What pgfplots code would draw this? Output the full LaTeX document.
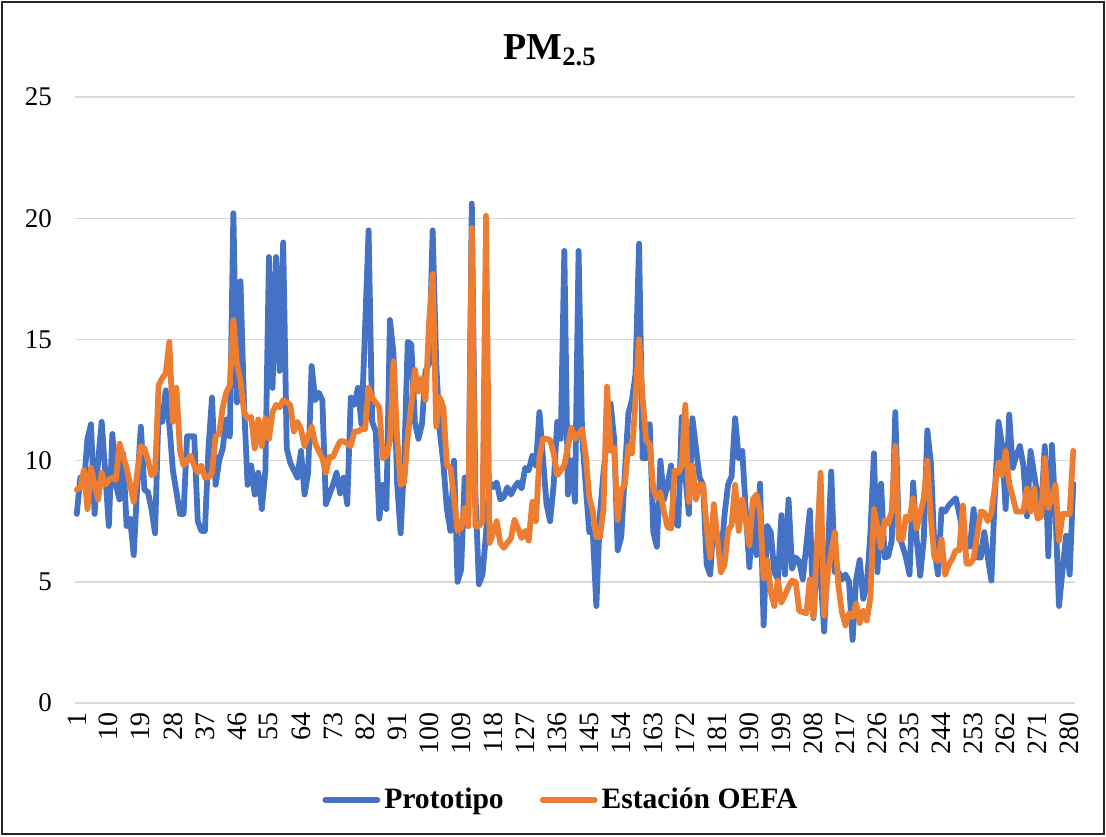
\documentclass[border=0pt]{standalone}
\usepackage{fontspec}
\setmainfont{Liberation Serif}
\usepackage{pgfplots}
\usepackage{pgfplotstable}
\pgfplotsset{compat=1.18}
\definecolor{pblue}{HTML}{4472C4}
\definecolor{porange}{HTML}{ED7D31}
\definecolor{gridgray}{HTML}{D9D9D9}
\pgfplotstableread{
b o
7.8 8.8
9.3 8.9
9.0 9.6
10.9 8.0
11.5 9.7
7.8 9.0
10.0 8.4
11.6 9.5
9.5 9.0
7.3 9.2
11.1 9.3
9.0 9.2
8.4 10.7
10.3 10.2
7.3 9.7
7.6 9.0
6.1 8.3
9.0 9.5
11.4 10.6
8.8 10.5
8.7 10.0
8.0 9.4
7.0 9.5
12.2 13.1
11.6 13.4
12.9 13.6
11.5 14.9
9.6 11.6
8.7 13.0
7.8 10.4
7.8 9.8
11.0 10.0
11.0 10.2
11.0 9.8
7.5 9.5
7.1 9.8
7.1 9.3
10.5 9.3
12.6 9.5
9.0 11.0
10.0 11.1
10.5 12.2
11.7 12.8
11.0 13.1
20.2 15.8
12.4 14.0
17.4 13.3
12.3 12.0
9.0 11.75
9.8 11.8
8.6 10.5
9.5 11.7
8.0 10.6
9.6 11.75
18.4 10.9
13.0 12.0
18.4 12.3
13.7 12.2
19.0 12.5
10.5 12.4
9.9 12.3
9.6 11.2
9.3 11.6
10.4 11.3
8.6 10.6
9.5 11.0
13.9 11.4
12.5 10.7
12.8 10.4
12.5 10.1
8.2 9.5
8.6 10.15
9.0 10.15
9.5 10.5
8.65 10.8
9.3 10.8
8.2 10.7
12.6 10.6
12.3 11.2
13.0 11.2
11.5 11.3
15.4 11.3
19.5 13.0
11.6 12.6
11.2 12.4
7.6 12.2
9.0 10.1
8.0 10.2
15.8 10.8
14.4 14.1
9.1 11.0
7.0 9.0
10.0 9.1
14.9 11.0
14.8 12.3
11.6 13.75
10.9 12.85
11.5 13.4
13.7 12.5
14.0 15.7
19.5 17.7
14.0 11.4
11.2 12.6
9.9 12.2
8.0 9.8
7.1 9.7
10.0 8.5
5.0 7.1
5.5 7.2
9.3 8.05
7.3 7.3
20.6 19.6
8.7 7.3
4.9 7.3
5.3 7.5
7.0 20.1
9.1 6.6
8.9 7.0
9.1 7.5
8.4 6.6
8.5 6.4
8.9 6.6
8.6 6.8
8.9 7.55
9.1 7.2
8.85 6.8
9.7 7.1
9.6 6.7
10.2 8.3
9.8 7.5
12.0 10.1
10.1 10.9
8.2 10.9
7.5 10.85
9.0 10.3
11.6 9.4
10.9 9.6
18.65 9.8
8.6 10.6
10.0 11.35
8.3 10.9
18.65 11.1
11.0 11.3
9.0 10.2
7.05 8.5
7.05 7.9
4.0 6.85
7.75 6.85
9.5 8.0
10.9 13.05
12.35 10.4
10.9 10.55
6.3 7.55
6.85 8.8
9.5 9.0
11.95 10.6
12.5 10.3
13.55 12.5
18.95 15.0
10.1 12.6
10.1 10.8
11.5 10.7
7.05 8.8
6.45 8.45
10.0 8.7
8.4 7.9
9.0 7.25
9.8 7.2
7.5 9.6
7.3 9.5
11.8 9.8
9.35 12.3
7.8 8.3
11.75 9.8
10.5 8.4
9.3 9.0
9.0 9.0
5.7 7.2
5.3 6.0
7.75 8.2
6.8 6.8
5.85 5.4
7.75 5.7
9.0 7.1
9.35 7.35
11.75 9.0
10.1 7.1
10.4 8.4
7.9 7.55
5.6 6.5
8.3 8.4
6.1 8.6
9.05 7.9
3.2 5.15
7.3 5.9
7.05 4.6
5.4 4.0
5.1 5.05
7.75 4.15
5.3 4.45
8.4 4.8
5.55 5.05
6.0 5.0
5.85 3.8
5.1 3.75
6.5 3.7
7.95 5.1
3.5 3.55
6.0 6.5
5.3 9.5
2.95 3.6
6.0 5.3
9.55 6.2
5.4 7.05
5.4 4.85
5.1 3.75
5.3 3.2
5.0 3.7
2.6 3.55
5.1 4.1
5.9 3.3
4.3 3.8
4.85 3.4
7.0 4.35
10.3 8.0
5.4 7.25
9.05 6.4
6.0 7.55
6.05 7.4
6.7 7.9
12.0 10.6
6.9 6.75
6.5 6.75
6.0 7.7
5.3 7.55
9.1 8.45
6.75 7.2
5.25 7.8
6.75 8.45
11.25 10.0
9.9 7.6
6.35 6.0
5.3 5.85
8.0 6.75
7.9 5.3
8.15 5.7
8.3 5.95
8.45 6.3
7.8 6.3
7.0 8.15
6.7 5.75
6.45 5.75
8.0 5.95
6.0 6.9
6.0 7.9
7.05 7.85
6.0 7.5
5.05 7.85
8.7 8.95
11.6 9.9
10.65 9.4
8.0 10.4
11.9 9.05
9.7 8.5
10.2 7.9
10.6 7.9
9.8 7.9
7.7 8.85
10.4 7.9
9.45 8.85
8.5 7.6
7.9 7.7
10.6 10.1
6.05 8.05
10.65 8.5
7.9 9.0
4.0 6.7
5.5 7.8
6.9 7.8
5.3 7.8
9.05 10.4
}\datatable
\begin{document}
\begin{tikzpicture}[x=1pt,y=1pt]
\path[use as bounding box] (0,0) rectangle (553,418);
\draw[line width=1pt,black!85] (1,1) rectangle (552,417);
\node[font=\fontsize{19}{22}\selectfont\bfseries] at (275,393) {PM\textsubscript{2.5}};
\begin{axis}[
  at={(37.5pt,66.5pt)}, anchor=south west,
  scale only axis, width=500pt, height=303pt,
  xmin=0.5, xmax=281.5, ymin=0, ymax=25,
  ytick={0,5,...,25}, xtick={1,10,...,280},
  ymajorgrids, grid style={gridgray, line width=0.7pt},
  axis line style={draw=none}, tick style={draw=none},
  /pgf/number format/assume math mode=true,
  yticklabel style={font=\fontsize{13.5}{15}\selectfont, anchor=east, xshift=-8pt},
  xticklabel style={font=\fontsize{14}{16}\selectfont, rotate=90, anchor=east, xshift=-1pt},
  legend style={at={(0.487,-0.16)}, anchor=center, draw=none, fill=none,
    legend columns=2, font=\fontsize{14.8}{17}\selectfont\bfseries,
    /tikz/every even column/.append style={column sep=16pt}},
  legend image code/.code={\draw[#1] (0pt,0pt) -- (26pt,0pt);},
  clip=false,
]
\addplot[pblue, line width=2.9pt, line join=round, line cap=round] table[x expr=\coordindex+1, y=b] {\datatable};
\addlegendentry{Prototipo}
\addplot[porange, line width=2.9pt, line join=round, line cap=round] table[x expr=\coordindex+1, y=o] {\datatable};
\addlegendentry{Estación OEFA}
\end{axis}
\end{tikzpicture}
\end{document}
